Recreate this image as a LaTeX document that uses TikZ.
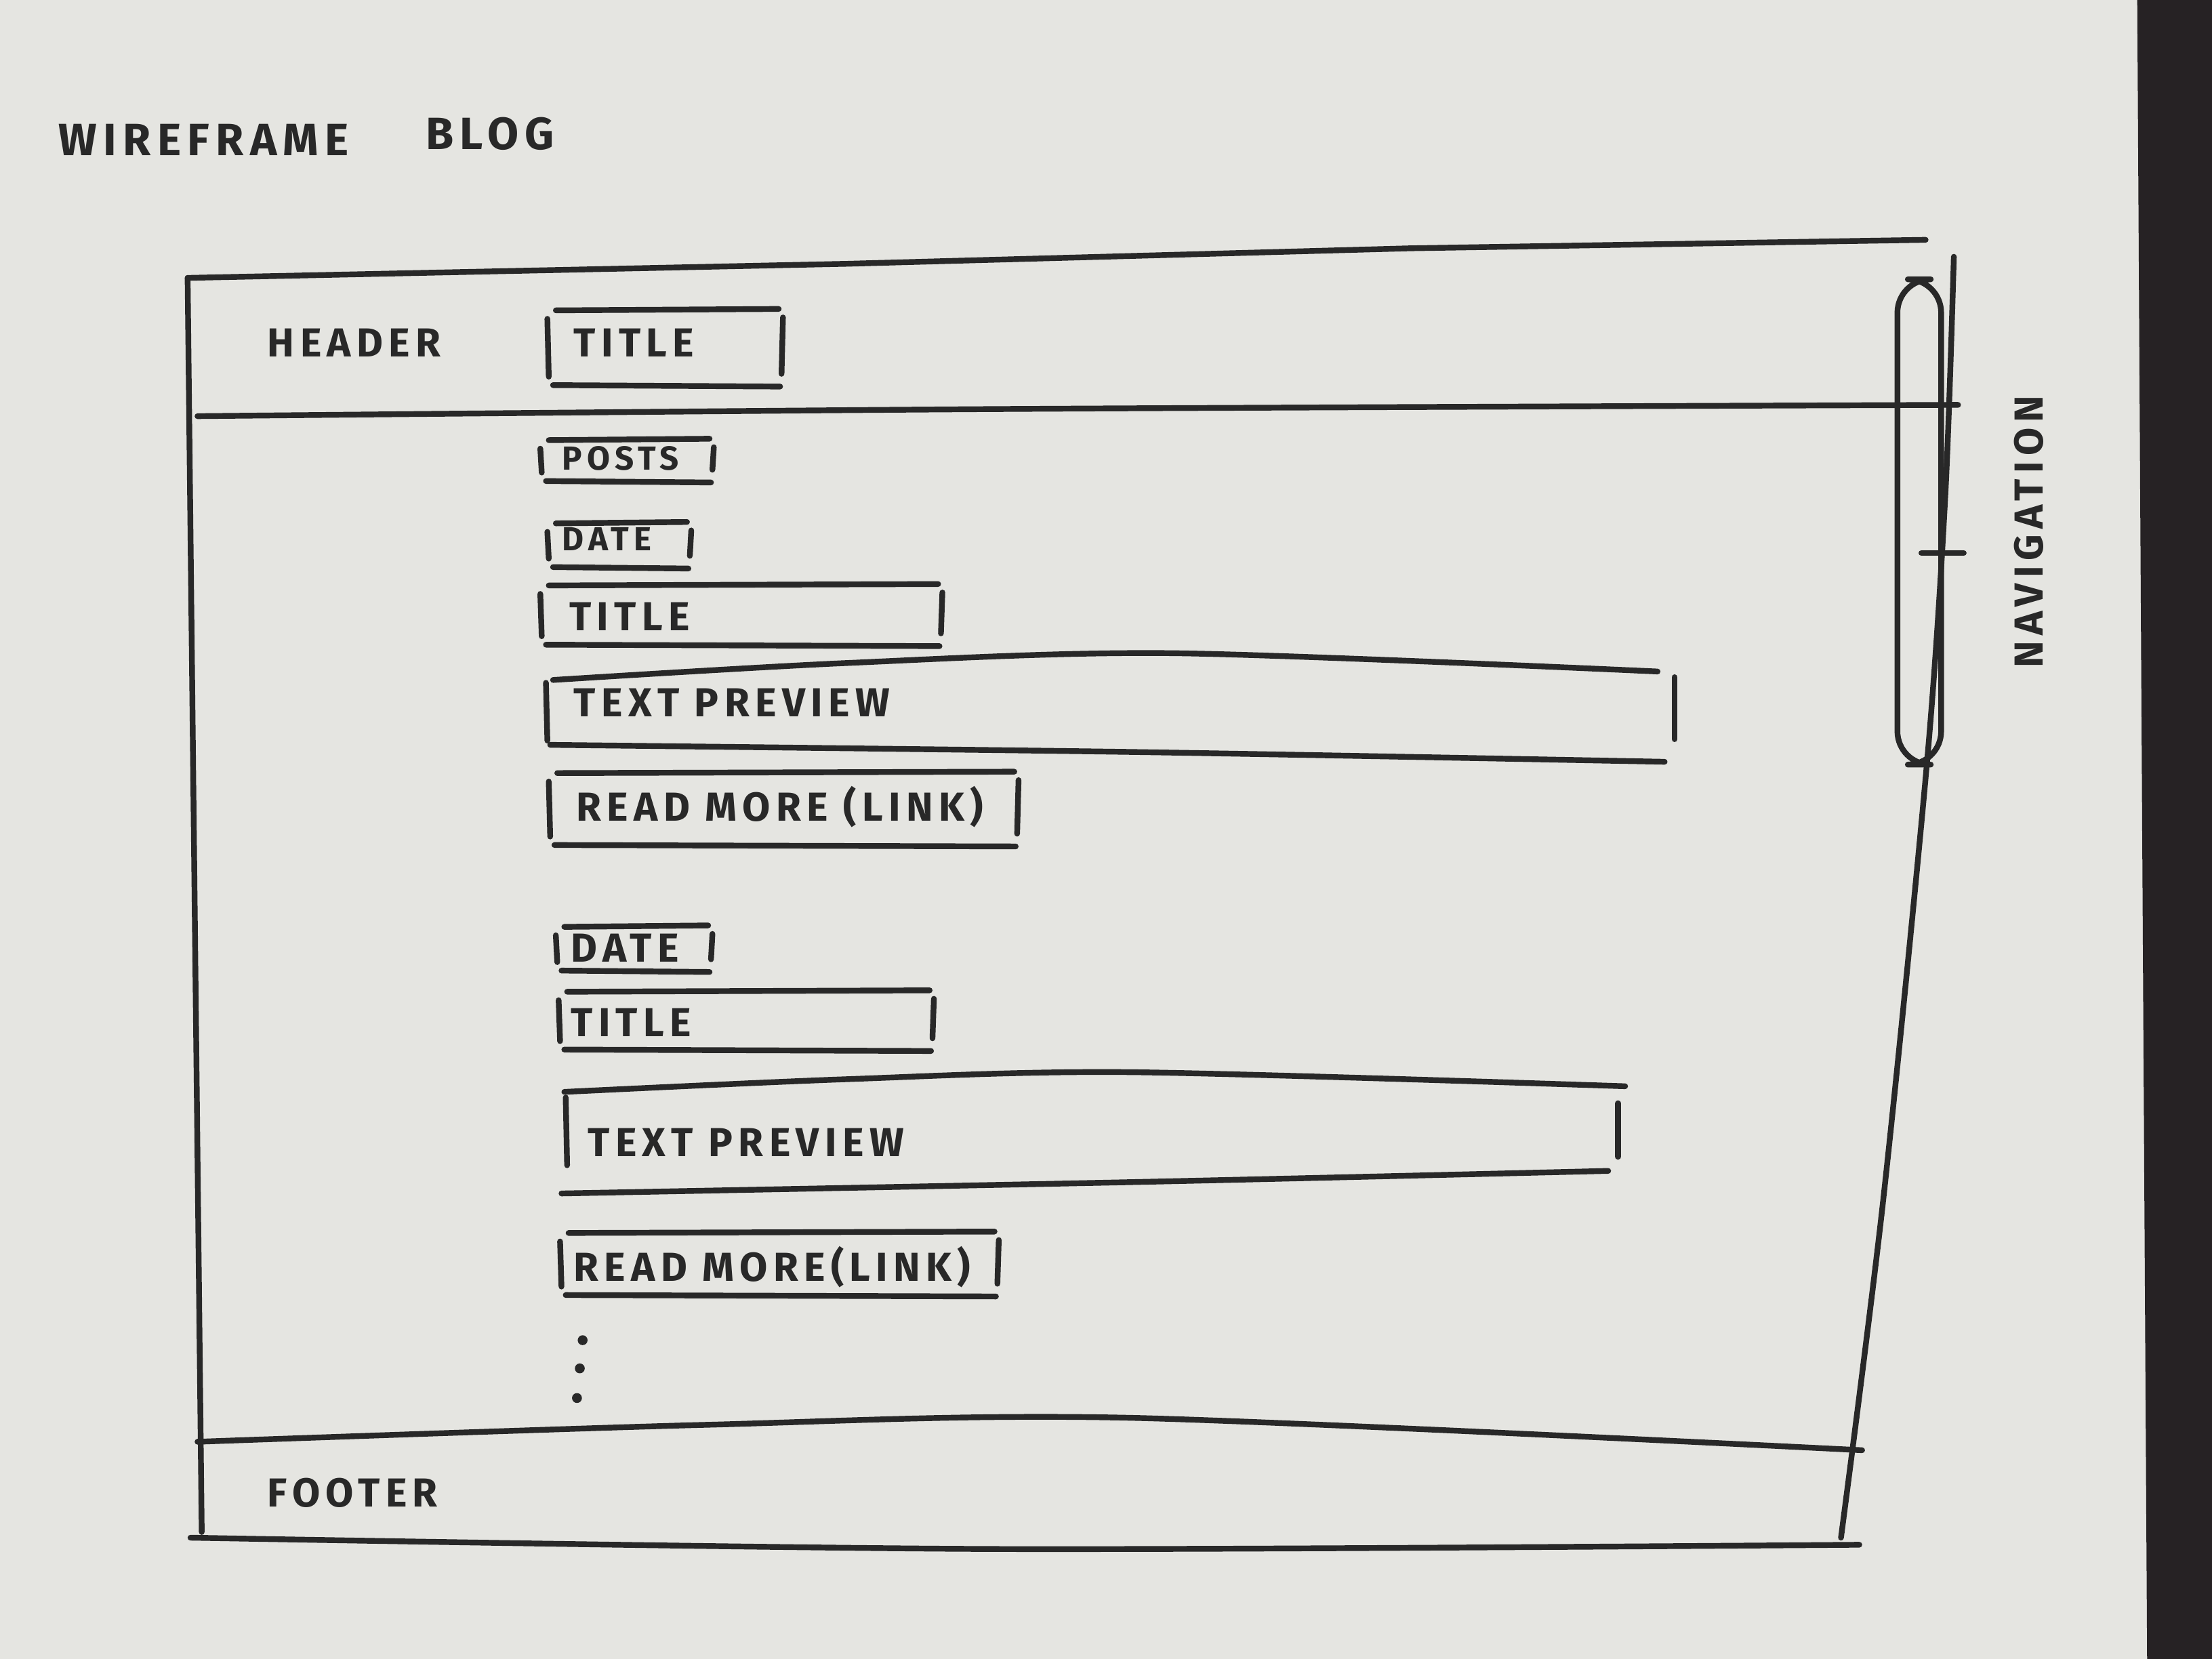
\documentclass[tikz,border=0pt]{standalone}
\usepackage{fontspec}
\newfontfamily\sketchfont[LetterSpace=14]{Fira Sans}
\usetikzlibrary{calc}
\definecolor{paper}{RGB}{229,229,225}
\definecolor{ink}{RGB}{40,40,40}
\definecolor{desk}{RGB}{38,34,36}
% open box, sides drawn one by one like a pen sketch
\newcommand{\wirebox}[4]{%
    \draw[pen] (#1+6,#2+1) -- (#3-3,#2);
    \draw[pen] (#1+4,#4) -- (#3-2,#4+1);
    \draw[pen] (#1,#2+7) -- (#1+1,#4-6);
    \draw[pen] (#3,#2+6) -- (#3-1,#4-8);
}

\begin{document}
\begin{tikzpicture}[x=0.020816cm,y=-0.020816cm,
    every node/.style={inner sep=0,outer sep=1,text=ink,
        font=\sketchfont\bfseries\fontsize{17}{17}\selectfont},
    pen/.style={draw=ink,line width=2.4pt,line cap=round,line join=round},
    lbl/.style={anchor=west},
    big/.style={font=\sketchfont\bfseries\fontsize{19}{19}\selectfont},
    small/.style={font=\sketchfont\bfseries\fontsize{14}{14}\selectfont}]

    \fill[paper] (0,0) rectangle (1568,1176);
    \fill[desk] (1515,0) -- (1568,0) -- (1568,1176) -- (1522,1176) -- cycle;
    \useasboundingbox (0,0) rectangle (1568,1176);

    \node[lbl,big](wire) at (40,99) {WIREFRAME};
    \node[lbl,big](blog) at (300,95) {BLOG};

    % page frame
    \draw[pen] (133,197) -- (600,187) -- (1000,176) -- (1365,170);
    \draw[pen] (133,197) -- (143,1086);
    \draw[pen] plot[smooth] coordinates {(135,1090) (700,1098) (1318,1095)};
    \draw[pen] plot[smooth] coordinates {(1385,182) (1379,350) (1366,540) (1335,850) (1305,1090)};
    \draw[pen] plot[smooth] coordinates {(140,295) (700,290) (1388,287)};
    \draw[pen] plot[smooth] coordinates {(140,1022) (500,1010) (800,1005) (1320,1028)};

    % scrollbar
    \draw[pen,rounded corners=14] (1345,198) rectangle (1376,542);
    \draw[pen] (1362,392) -- (1392,392);
    \node[rotate=90](nav) at (1438,377) {NAVIGATION};

    \node[lbl](header) at (188,243) {HEADER};
    \node[lbl](footer) at (188,1058) {FOOTER};

    \wirebox{388}{219}{555}{273}
    \node[lbl](htitle) at (405,243) {TITLE};

    \wirebox{383}{311}{506}{341}
    \node[lbl,small](posts) at (397,325) {POSTS};

    % first post
    \wirebox{388}{370}{490}{402}
    \node[lbl,small](date1) at (397,382) {DATE};
    \wirebox{383}{414}{668}{457}
    \node[lbl](title1) at (402,437) {TITLE};
    \draw[pen] plot[smooth] coordinates {(392,482) (600,470) (830,463) (1175,476)};
    \draw[pen] plot[smooth] coordinates {(390,528) (800,533) (1180,540)};
    \draw[pen] (387,484) -- (388,525);
    \draw[pen] (1187,480) -- (1187,524);
    \node[lbl](prev1) at (405,498) {TEXT PREVIEW};
    \wirebox{389}{547}{722}{599}
    \node[lbl](more1) at (407,572) {READ MORE (LINK)};

    % second post
    \wirebox{394}{656}{505}{688}
    \node[lbl](date2) at (403,672) {DATE};
    \wirebox{396}{702}{662}{744}
    \node[lbl](title2) at (403,725) {TITLE};
    \draw[pen] plot[smooth] coordinates {(400,774) (600,765) (800,760) (1152,770)};
    \draw[pen] plot[smooth] coordinates {(398,846) (800,838) (1140,830)};
    \draw[pen] (401,778) -- (402,826);
    \draw[pen] (1147,782) -- (1147,820);
    \node[lbl](prev2) at (415,810) {TEXT PREVIEW};
    \wirebox{397}{873}{708}{918}
    \node[lbl](more2) at (405,898) {READ MORE(LINK)};

    \fill[ink] (413,950) circle (3.5) (411,970) circle (3.5) (409,991) circle (3.5);
\end{tikzpicture}
\end{document}
